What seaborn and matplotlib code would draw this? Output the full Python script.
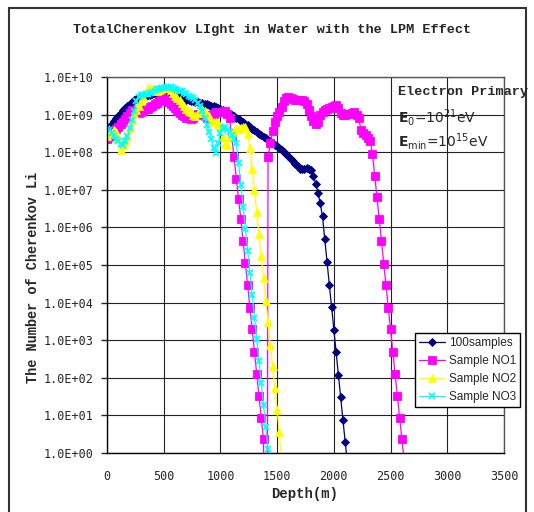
import numpy as np
import matplotlib
matplotlib.use("Agg")
import matplotlib.pyplot as plt
import seaborn as sns
from matplotlib.ticker import FuncFormatter, NullLocator
from matplotlib.patches import Rectangle

# depth sampling step of the shower output (m)
STEP = 20

# log10 of the number of Cherenkov photons, one value every STEP metres from 0 m
log_100samples = [
    8.62, 8.68, 8.75, 8.82, 8.90, 8.96, 9.04, 9.11, 9.17, 9.23,
    9.29, 9.34, 9.38, 9.42, 9.45, 9.47, 9.49, 9.50, 9.52, 9.53,
    9.54, 9.55, 9.55, 9.56, 9.56, 9.56, 9.55, 9.54, 9.52, 9.50,
    9.49, 9.47, 9.46, 9.44, 9.42, 9.40, 9.39, 9.37, 9.36, 9.34,
    9.33, 9.31, 9.30, 9.28, 9.27, 9.25, 9.24, 9.22, 9.20, 9.18,
    9.16, 9.12, 9.08, 9.05, 9.01, 8.98, 8.95, 8.92, 8.88, 8.84,
    8.80, 8.76, 8.72, 8.67, 8.62, 8.58, 8.53, 8.49, 8.45, 8.41,
    8.37, 8.33, 8.29, 8.24, 8.20, 8.16, 8.12, 8.07, 8.01, 7.96,
    7.90, 7.83, 7.76, 7.69, 7.62, 7.56, 7.54, 7.55, 7.57, 7.55,
    7.52, 7.38, 7.16, 6.92, 6.64, 6.29, 5.68, 5.08, 4.48, 3.88,
    3.28, 2.68, 2.08, 1.48, 0.88, 0.30, -0.30,
]

log_sample_no1 = [
    8.35, 8.40, 8.45, 8.52, 8.62, 8.68, 8.74, 8.80, 8.87, 8.95,
    9.05, 9.12, 9.10, 9.06, 9.04, 9.06, 9.10, 9.14, 9.16, 9.20,
    9.24, 9.28, 9.32, 9.36, 9.40, 9.44, 9.40, 9.34, 9.28, 9.24,
    9.18, 9.10, 9.04, 9.00, 8.96, 8.92, 8.90, 8.88, 8.92, 8.98,
    9.02, 9.02, 9.00, 8.96, 8.92, 8.94, 8.98, 9.02, 9.06, 9.08,
    9.06, 9.08, 9.10, 9.02, 8.90, 8.42, 7.86, 7.30, 6.76, 6.22,
    5.65, 5.05, 4.46, 3.86, 3.29, 2.68, 2.10, 1.51, 0.94, 0.36,
    -20.0, 7.88, 8.25, 8.57, 8.80, 8.97, 9.08, 9.20, 9.35, 9.45,
    9.46, 9.45, 9.42, 9.38, 9.40, 9.40, 9.38, 9.36, 9.28, 9.12,
    8.95, 8.82, 8.76, 8.80, 8.98, 9.06, 9.12, 9.16, 9.18, 9.20,
    9.24, 9.26, 9.18, 9.04, 8.98, 8.98, 9.02, 9.02, 9.04, 9.06,
    9.00, 8.90, 8.58, 8.50, 8.46, 8.38, 8.30, 7.96, 7.38, 6.80,
    6.22, 5.65, 5.03, 4.46, 3.86, 3.29, 2.68, 2.10, 1.51, 0.94,
    0.36, -0.22,
]

log_sample_no2 = [
    8.44, 8.48, 8.52, 8.60, 8.55, 8.35, 8.05, 8.18, 8.30, 8.42,
    8.65, 8.85, 9.02, 9.12, 9.22, 9.36, 9.48, 9.60, 9.70, 9.70,
    9.68, 9.66, 9.64, 9.65, 9.68, 9.72, 9.72, 9.70, 9.65, 9.58,
    9.50, 9.44, 9.38, 9.30, 9.22, 9.15, 9.10, 9.06, 9.00, 8.95,
    9.05, 9.12, 9.15, 9.10, 9.00, 8.95, 8.86, 8.80, 8.80, 8.76,
    8.70, 8.40, 8.22, 8.20, 8.40, 8.55, 8.60, 8.62, 8.62, 8.65,
    8.67, 8.68, 8.49, 8.10, 7.55, 7.00, 6.40, 5.82, 5.25, 4.65,
    4.05, 3.48, 2.88, 2.31, 1.72, 1.14, 0.55, -0.45,
]

log_sample_no3 = [
    8.62, 8.60, 8.52, 8.42, 8.35, 8.30, 8.22, 8.20, 8.30, 8.42,
    8.65, 8.85, 9.10, 9.35, 9.48, 9.52, 9.53, 9.54, 9.56, 9.58,
    9.60, 9.64, 9.67, 9.69, 9.71, 9.72, 9.74, 9.74, 9.73, 9.71,
    9.68, 9.66, 9.64, 9.62, 9.58, 9.54, 9.50, 9.48, 9.44, 9.38,
    9.32, 9.22, 9.10, 8.92, 8.72, 8.55, 8.35, 8.10, 7.98, 8.25,
    8.50, 8.65, 8.68, 8.60, 8.54, 8.46, 8.36, 8.25, 7.70, 7.12,
    6.55, 5.96, 5.38, 4.79, 4.20, 3.60, 3.03, 2.45, 1.86, 1.27,
    0.68, 0.11, -0.45,
]

series_names = ["100samples", "Sample NO1", "Sample NO2", "Sample NO3"]
series_logs = [log_100samples, log_sample_no1, log_sample_no2, log_sample_no3]
series_colors = ["#000080", "#FF00FF", "#FFFF00", "#00FFFF"]
series_markers = ["D", "s", "^", "x"]
series_msize = [4.0, 5.5, 6.0, 5.0]

y_ticks = [10.0 ** p for p in range(0, 11)]
x_ticks = [0, 500, 1000, 1500, 2000, 2500, 3000, 3500]

W, H = 534, 512

sns.set_style("white")
plt.rcParams['font.family'] = ['DejaVu Sans']

fig = plt.figure(figsize=(W / 100, H / 100), dpi=100)
ax = fig.add_axes([107 / W, 59 / H, 397 / W, 376 / H])

for name, logs, color, marker, ms in zip(series_names, series_logs, series_colors,
                                         series_markers, series_msize):
    depth = np.arange(len(logs)) * STEP
    values = 10.0 ** np.asarray(logs)
    sns.lineplot(x=depth, y=values, ax=ax, color=color, marker=marker,
                 markersize=ms, markeredgecolor=color,
                 markeredgewidth=1.3 if marker == "x" else 0.6,
                 linewidth=0.9, label=name)

ax.set_yscale("log")
ax.set_xlim(0, 3500)
ax.set_ylim(1, 1e10)
ax.set_xticks(x_ticks)
ax.set_yticks(y_ticks)
ax.yaxis.set_minor_locator(NullLocator())
ax.yaxis.set_major_formatter(FuncFormatter(lambda v, _: f"{v:.1E}"))
ax.grid(True, which="major", color="#222222", linewidth=0.8)
ax.set_axisbelow(True)
for side in ["top", "right"]:
    ax.spines[side].set_color("#555555")
    ax.spines[side].set_linewidth(1.0)
for side in ["left", "bottom"]:
    ax.spines[side].set_color("black")
    ax.spines[side].set_linewidth(1.0)

ax.tick_params(axis="y", length=4, width=1, pad=6, labelsize=8.5, direction="out", left=True)
ax.tick_params(axis="x", length=0, pad=12, labelsize=8.5)
for lab in ax.get_xticklabels() + ax.get_yticklabels():
    lab.set_family("DejaVu Sans Mono")
ax.set_xlabel("")
ax.set_ylabel("")

title_font = dict(family="Liberation Mono", weight="bold")
fig.text(272 / W, 1 - 30 / H, "TotalCherenkov LIght in Water with the LPM Effect",
         ha="center", va="center", fontsize=9.7, **title_font)
fig.text(305 / W, 1 - 494 / H, "Depth(m)", ha="center", va="center",
         fontsize=10, **title_font)
fig.text(33 / W, 1 - 277 / H, "The Number of Cherenkov Li", ha="center",
         va="center", rotation=90, fontsize=9.8, **title_font)

# shower info block
fig.text(398 / W, 1 - 92 / H, "Electron Primary", ha="left", va="center",
         fontsize=9.7, **title_font)
fig.text(398 / W, 1 - 117 / H, r"$\mathbf{E}_0$=10$^{21}$eV", ha="left",
         va="center", fontsize=10)
fig.text(398 / W, 1 - 141 / H, r"$\mathbf{E}_{\mathrm{min}}$=10$^{15}$eV",
         ha="left", va="center", fontsize=10)

leg = ax.legend(loc="upper left", bbox_to_anchor=(415 / W, 1 - 333 / H),
                bbox_transform=fig.transFigure, frameon=True, fancybox=False,
                framealpha=1, edgecolor="black", borderaxespad=0,
                prop={"family": "Liberation Sans", "size": 8.5},
                handlelength=2.2, handletextpad=0.3, labelspacing=0.5,
                borderpad=0.35)
leg.get_frame().set_linewidth(1.0)

# chart-area border
fig.patches.append(Rectangle((9 / W, -0.05), 517 / W, 1.05 - 8 / H,
                             transform=fig.transFigure, fill=False,
                             edgecolor="#333333", linewidth=1.5))

fig.savefig("out.png", dpi=100)
